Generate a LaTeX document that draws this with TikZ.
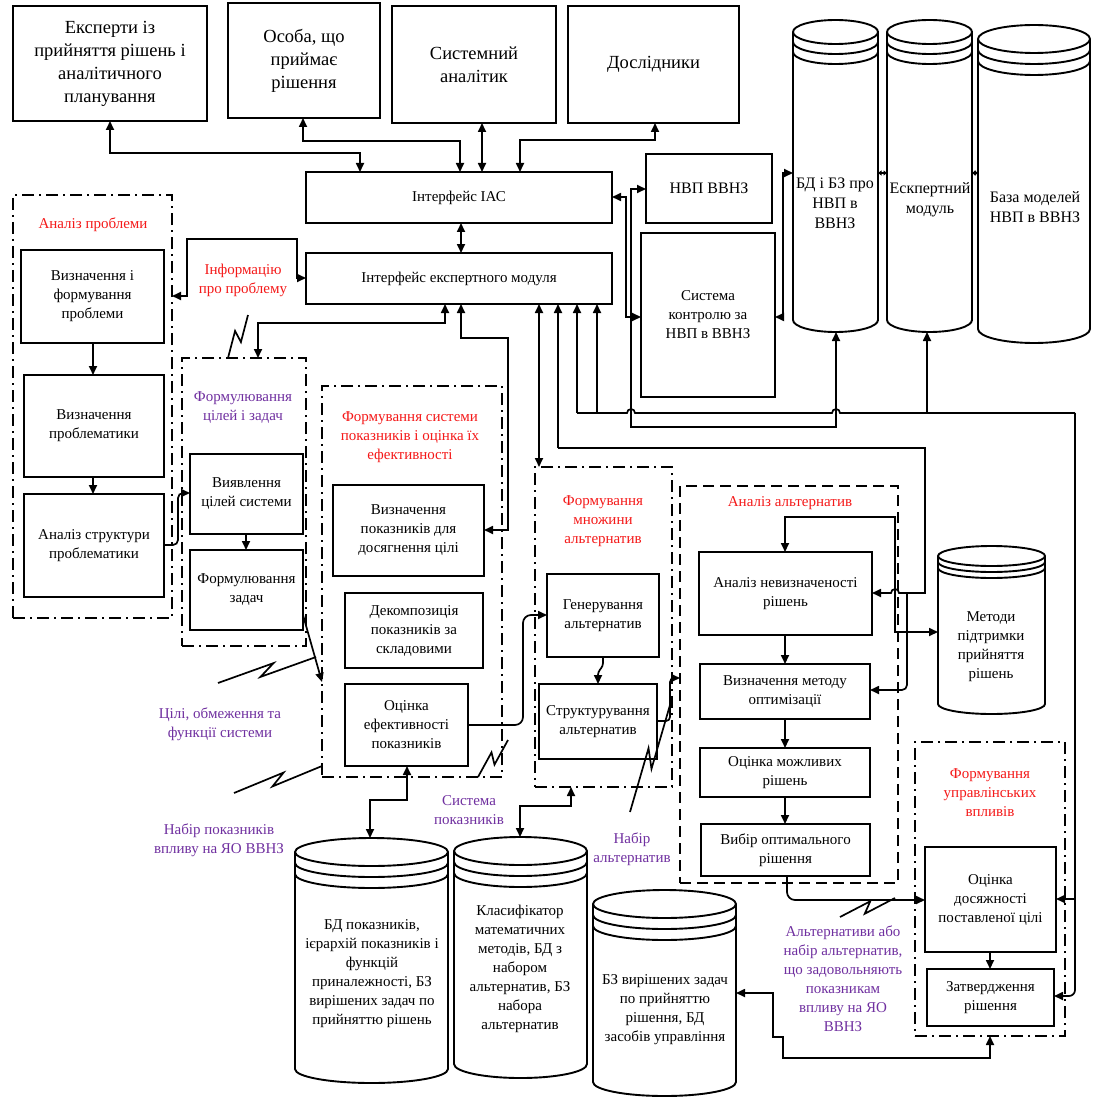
\documentclass[tikz,border=0pt]{standalone}
\usepackage{fontspec}
\setmainfont{Liberation Serif}
\usetikzlibrary{arrows.meta,calc}
\definecolor{lblred}{RGB}{245,25,25}
\definecolor{lblviolet}{RGB}{112,48,160}
\newcommand\fsz[2]{\fontsize{#1}{#2}\selectfont}

% database drum: name, left x, right x, top y, bottom y, ellipse half-height, ring spacing
\newcommand\drum[7]{%
  \pgfmathsetmacro\drx{(#3-#2)/2}%
  \pgfmathsetmacro\dcx{(#2+#3)/2}%
  \pgfmathsetmacro\dyt{#4+#6}%
  \pgfmathsetmacro\dyb{#5-#6}%
  \pgfmathsetmacro\dym{(#4+#5)/2}%
  \node[inner sep=0pt,outer sep=0pt,minimum width={(#3-#2)*1pt},minimum height={(#5-#4)*1pt}] (#1) at (\dcx,\dym) {};
  \filldraw[drumline,fill=white] (#2,\dyt) -- (#2,\dyb)
    arc[start angle=180,end angle=360,x radius=\drx pt,y radius=#6pt] -- (#3,\dyt)
    arc[start angle=0,end angle=180,x radius=\drx pt,y radius=#6pt] -- cycle;
  \foreach \k in {0,1,2}{%
    \draw[drumline] (#2,\dyt+\k*#7) arc[start angle=180,end angle=360,x radius=\drx pt,y radius=#6pt];}%
}
% break mark between two points
\newcommand\brk[2]{\draw[brkline] (#1) -- ($(#1)!0.58!(#2)!5pt!90:(#2)$) -- ($(#1)!0.42!(#2)!5pt!-90:(#2)$) -- (#2);}

\begin{document}
\begin{tikzpicture}[x=1pt,y=-1pt,
  >={Triangle[length=9pt,width=8pt]},
  box/.style={draw,line width=1.9pt,fill=white,align=center,inner sep=0pt,outer sep=0pt,font=\fsz{15}{19}},
  tbox/.style={box,font=\fsz{18.5}{23}},
  grpdd/.style={draw,line width=2.1pt,dash pattern=on 12pt off 5pt on 2pt off 5pt,inner sep=0pt,outer sep=0pt},
  grpd/.style={draw,line width=2.1pt,dash pattern=on 11pt off 6pt,inner sep=0pt,outer sep=0pt},
  drumline/.style={line width=1.9pt},
  drumtxt/.style={align=center,font=\fsz{15}{19}},
  wire/.style={line width=1.7pt},
  brkline/.style={line width=1.7pt},
  redt/.style={text=lblred,align=center,font=\fsz{15}{19}},
  viot/.style={text=lblviolet,align=center,font=\fsz{15}{19}},
  tiny tips/.style={{Triangle[length=3.5pt,width=5pt]}-{Triangle[length=3.5pt,width=5pt]}}
]
\fill[white] (0,0) rectangle (1092,1099);
\useasboundingbox (0,0) rectangle (1092,1099);

% actors
\node[tbox,minimum width=194pt,minimum height=115pt] (exp) at (110,63.5) {Експерти із\\прийняття рішень і\\аналітичного\\планування};
\node[tbox,minimum width=152pt,minimum height=115pt] (osb) at (304,60.5) {Особа, що\\приймає\\рішення};
\node[tbox,minimum width=164pt,minimum height=117pt] (san) at (474,64.5) {Системний\\аналітик};
\node[tbox,minimum width=171pt,minimum height=117pt] (dsl) at (653.5,64.5) {Дослідники};

% interfaces and monitoring
\node[box,minimum width=306pt,minimum height=51pt] (iac) at (459,197.5) {Інтерфейс ІАС};
\node[box,minimum width=306pt,minimum height=51pt] (expm) at (459,278.5) {Інтерфейс експертного модуля};
\node[box,font=\fsz{16}{20},minimum width=126pt,minimum height=69pt] (nvp) at (709,188.5) {НВП ВВНЗ};
\node[box,minimum width=134pt,minimum height=164pt] (skn) at (708,315) {Система\\контролю за\\НВП в ВВНЗ};

% stage frames
\node[grpdd,minimum width=159pt,minimum height=423pt] (ap) at (92.5,406.5) {};
\node[grpdd,minimum width=124pt,minimum height=288pt] (fcz) at (244,502) {};
\node[grpdd,minimum width=180pt,minimum height=391pt] (fsp) at (412,581.5) {};
\node[grpdd,minimum width=137pt,minimum height=320pt] (fma) at (603.5,627) {};
\node[grpd,minimum width=218pt,minimum height=397pt] (aa) at (789,684.5) {};
\node[grpdd,minimum width=150pt,minimum height=294pt] (fuv) at (990,889) {};

% stage steps
\node[box,minimum width=143pt,minimum height=93pt] (vif) at (92.5,296.5) {Визначення і\\формування\\проблеми};
\node[box,minimum width=140pt,minimum height=102pt] (vpr) at (94,426) {Визначення\\проблематики};
\node[box,minimum width=140pt,minimum height=103pt] (asp) at (94,545.5) {Аналіз структури\\проблематики};
\node[box,minimum width=113pt,minimum height=80pt] (vts) at (246.5,494) {Виявлення\\цілей системи};
\node[box,minimum width=113pt,minimum height=80pt] (fz) at (246.5,590) {Формулювання\\задач};
\node[box,minimum width=151pt,minimum height=91pt] (vpk) at (408.5,530.5) {Визначення\\показників для\\досягнення цілі};
\node[box,minimum width=138pt,minimum height=75pt] (dkp) at (414,630.5) {Декомпозиція\\показників за\\складовими};
\node[box,minimum width=123pt,minimum height=82pt] (oep) at (406.5,725) {Оцінка\\ефективності\\показників};
\node[box,minimum width=112pt,minimum height=83pt] (gen) at (603,615.5) {Генерування\\альтернатив};
\node[box,minimum width=118pt,minimum height=75pt] (str) at (598,721.5) {Структурування\\альтернатив};
\node[box,minimum width=173pt,minimum height=83pt] (anv) at (785.5,593.5) {Аналіз невизначеності\\рішень};
\node[box,minimum width=170pt,minimum height=55pt] (vmo) at (785,691.5) {Визначення методу\\оптимізації};
\node[box,minimum width=170pt,minimum height=49pt] (omr) at (785,772.5) {Оцінка можливих\\рішень};
\node[box,minimum width=169pt,minimum height=52pt] (vor) at (785.5,850) {Вибір оптимального\\рішення};
\node[box,minimum width=131pt,minimum height=105pt] (ocd) at (990.5,899.5) {Оцінка\\досяжності\\поставленої цілі};
\node[box,minimum width=127pt,minimum height=57pt] (zat) at (990.5,997.5) {Затвердження\\рішення};

% databases
\drum{bd1}{793}{878}{20}{332}{12}{10}
\drum{esk}{887}{972}{20}{332}{12}{10}
\drum{bmd}{978}{1090}{25}{343}{14}{11}
\drum{met}{938}{1045}{546}{714}{10}{6}
\drum{bdp}{295}{448}{838}{1083}{14}{11}
\drum{kls}{454}{587}{837}{1078}{14}{11}
\drum{bzv}{593}{736}{890}{1096}{14}{11}
\node[drumtxt,font=\fsz{16}{20}] (tbd1) at (835,203) {БД і БЗ про\\НВП в\\ВВНЗ};
\node[drumtxt,font=\fsz{16}{20}] (tesk) at (930,200) {Ескпертний\\модуль};
\node[drumtxt,font=\fsz{16}{20}] (tbmd) at (1035,207) {База моделей\\НВП в ВВНЗ};
\node[drumtxt] (tmet) at (991,647) {Методи\\підтримки\\прийняття\\рішень};
\node[drumtxt] (tbdp) at (372,974) {БД показників,\\ієрархій показників і\\функцій\\приналежності, БЗ\\вирішених задач по\\прийняттю рішень};
\node[drumtxt] (tkls) at (520,969) {Класифікатор\\математичних\\методів, БД з\\набором\\альтернатив, БЗ\\набора\\альтернатив};
\node[drumtxt] (tbzv) at (665,1010) {БЗ вирішених задач\\по прийняттю\\рішення, БД\\засобів управління};

% actors to the system interface
\draw[wire,<->] (exp.south -| 110,0) -- (110,153) -- (360,153) -- (iac.north -| 360,0);
\draw[wire,<->] (osb.south -| 303,0) -- (303,141) -- (460,141) -- (iac.north -| 460,0);
\draw[wire,<->] (san.south -| 482,0) -- (iac.north -| 482,0);
\draw[wire,<->] (dsl.south -| 655,0) -- (655,140) -- (520,140) -- (iac.north -| 520,0);
\draw[wire,<->] (iac.south -| 461,0) -- (expm.north -| 461,0);

% monitoring links
\draw[wire,<->] (iac.east |- 0,197) -- (626,197) -- (626,317) -- (skn.west |- 0,317);
\draw[wire,<->] (nvp.west |- 0,189) -- (631,189) -- (631,427) -- (836,427) -- (bd1.south -| 836,0);
\draw[wire,<->] (skn.east |- 0,317) -- (783,317) -- (783,173) -- (bd1.west |- 0,173);
\draw[wire,tiny tips] (bd1.east |- 0,173) -- (esk.west |- 0,173);
\draw[wire,tiny tips] (esk.east |- 0,173) -- (bmd.west |- 0,173);

% expert module interface to the stages
\draw[wire,<->] (ap.east |- 0,296) -- (187,296) -- (187,239) -- (297,239) -- (297,278) -- (expm.west |- 0,278);
\draw[wire,<->] (expm.south -| 445,0) -- (445,323) -- (258,323) -- (fcz.north -| 258,0);
\draw[wire,<->] (expm.south -| 461,0) -- (461,338) -- (508,338) -- (508,530) -- (vpk.east |- 0,530);
\draw[wire,<->] (expm.south -| 539,0) -- (fma.north -| 539,0);
\draw[wire,->] (558,448) -- (expm.south -| 558,0);
\draw[wire,->] (577,413) -- (expm.south -| 577,0);
\draw[wire,->] (597,413) -- (expm.south -| 597,0);
\draw[wire] (577,413) -- (627,413) arc[start angle=180,end angle=0,radius=4pt]
  -- (832,413) arc[start angle=180,end angle=0,radius=4pt] -- (1075,413);
\draw[wire,->] (927,413) -- (esk.south -| 927,0);
\draw[wire,->] (1075,413) -- (1075,899) -- (ocd.east |- 0,899);
\draw[wire,->,rounded corners=6pt] (1075,880) -- (1075,996) -- (zat.east |- 0,996);
\draw[wire,->] (558,448) -- (925,448) -- (925,593) -- (899,593) arc[start angle=0,end angle=180,radius=4pt] -- (anv.east |- 0,593);
\draw[wire,->,rounded corners=5pt] (907,593) -- (907,690) -- (vmo.east |- 0,690);
\draw[wire,<->] (met.west |- 0,632) -- (895,632) -- (895,517) -- (785,517) -- (anv.north -| 785,0);

% problem analysis chain
\draw[wire,->] (vif.south -| 93,0) -- (vpr.north -| 93,0);
\draw[wire,->] (vpr.south -| 93,0) -- (asp.north -| 93,0);
\draw[wire,->,rounded corners=5pt] (asp.east |- 0,545) -- (178,545) -- (178,493) -- (vts.west |- 0,493);
\draw[wire,->] (vts.south -| 246,0) -- (fz.north -| 246,0);
\draw[wire,->] (fz.east |- 0,615) -- (fsp.west |- 0,682);
\draw[wire,<->] (oep.south -| 407,0) -- (407,800) -- (370,800) -- (bdp.north -| 370,0);
\draw[wire,->,rounded corners=8pt] (oep.east |- 0,725) -- (523,725) -- (523,615) -- (gen.west |- 0,615);
\draw[wire,->,rounded corners=3pt] (gen.south -| 603,0) -- (603,666) -- (598,672) -- (str.north -| 598,0);
\draw[wire,->,rounded corners=4pt] (str.east |- 0,721) -- (670,721) -- (670,678) -- (aa.west |- 0,678);
\draw[wire,<->] (fma.south -| 571,0) -- (571,806) -- (520,806) -- (kls.north -| 520,0);
\draw[wire,->] (anv.south -| 785,0) -- (vmo.north -| 785,0);
\draw[wire,->] (vmo.south -| 785,0) -- (omr.north -| 785,0);
\draw[wire,->] (omr.south -| 785,0) -- (vor.north -| 785,0);
\draw[wire,->,rounded corners=8pt] (vor.south -| 787,0) -- (787,900) -- (ocd.west |- 0,900);
\draw[wire,->] (ocd.south -| 990,0) -- (zat.north -| 990,0);
\draw[wire,<->] (bzv.east |- 0,993) -- (773,993) -- (773,1037) -- (783,1037) -- (783,1058) -- (990,1058) -- (fuv.south -| 990,0);

% break marks
\brk{228,358}{248,315}
\brk{218,683}{316,657}
\brk{234,793}{322,766}
\brk{478,777}{508,740}
\brk{630,812}{670,705}
\brk{840,917}{895,898}

% captions
\node[redt] (lap) at (93,225) {Аналіз проблеми};
\node[redt] (linf) at (243,280) {Інформацію\\про проблему};
\node[viot] (lfcz) at (243,408) {Формулювання\\цілей і задач};
\node[viot] (lcil) at (220,724) {Цілі, обмеження та\\функції системи};
\node[redt] (lfsp) at (410,437) {Формування системи\\показників і оцінка їх\\ефективності};
\node[redt] (lfma) at (603,521) {Формування\\множини\\альтернатив};
\node[redt] (laa) at (790,503) {Аналіз альтернатив};
\node[viot] (lnp) at (219,840) {Набір показників\\впливу на ЯО ВВНЗ};
\node[viot] (lsp) at (469,810) {Система\\показників};
\node[viot] (lna) at (632,849) {Набір\\альтернатив};
\node[viot] (lalt) at (843,979) {Альтернативи або\\набір альтернатив,\\що задовольняють\\показникам\\впливу на ЯО\\ВВНЗ};
\node[redt] (lfuv) at (990,793) {Формування\\управлінських\\впливів};
\end{tikzpicture}
\end{document}
